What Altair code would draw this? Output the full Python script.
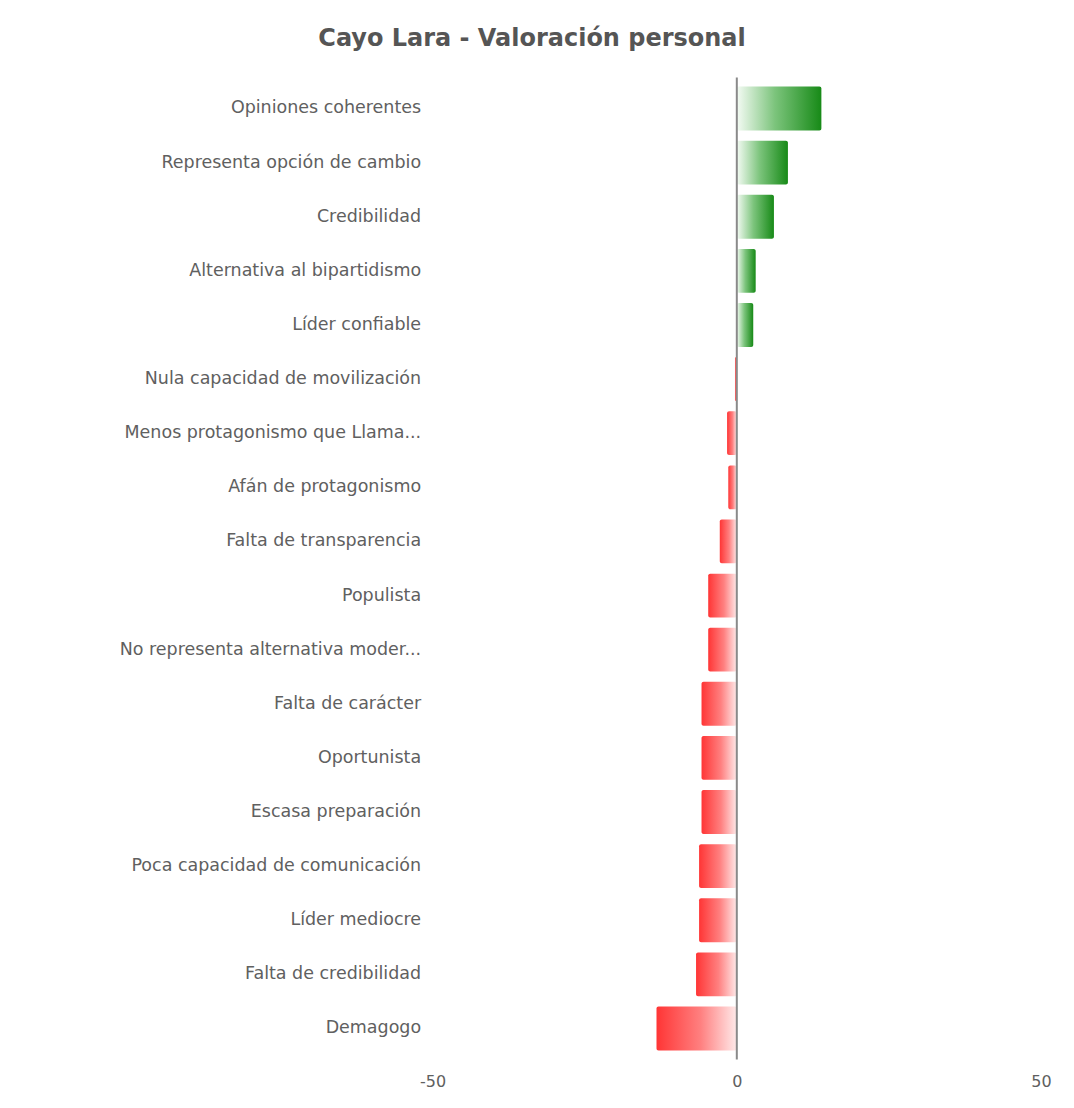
import altair as alt
import pandas as pd

categories = [
    "Opiniones coherentes",
    "Representa opción de cambio",
    "Credibilidad",
    "Alternativa al bipartidismo",
    "Líder confiable",
    "Nula capacidad de movilización",
    "Menos protagonismo que Llama...",
    "Afán de protagonismo",
    "Falta de transparencia",
    "Populista",
    "No representa alternativa moder...",
    "Falta de carácter",
    "Oportunista",
    "Escasa preparación",
    "Poca capacidad de comunicación",
    "Líder mediocre",
    "Falta de credibilidad",
    "Demagogo",
]
values = [13.9, 8.4, 6.1, 3.1, 2.7, -0.3, -1.6, -1.4, -2.8, -4.7, -4.7,
          -5.8, -5.8, -5.8, -6.2, -6.2, -6.7, -13.2]
x_ticks = [-50, 0, 50]

df = pd.DataFrame({"cat": categories, "val": values})
df["zero"] = 0

W, H = 609, 975
FONT = "DejaVu Sans"
GRAY = "#606060"

y_enc = alt.Y("cat:N", sort=None, title=None,
              scale=alt.Scale(paddingInner=0.19, paddingOuter=0.095),
              axis=alt.Axis(domain=False, ticks=False, labelPadding=12,
                            labelFont=FONT, labelFontSize=17.5, labelColor=GRAY,
                            labelLimit=420))
x_enc = alt.X("val:Q", title=None,
              scale=alt.Scale(domain=[-50, 50], nice=False),
              axis=alt.Axis(values=x_ticks, domain=False, ticks=False, grid=False,
                            labelFlush=False, labelPadding=18, labelFont=FONT,
                            labelFontSize=16, labelColor=GRAY,
                            labelExpr="'' + datum.value"))

green = alt.Gradient(gradient="linear", x1=0, x2=1, y1=0, y2=0,
                     stops=[alt.GradientStop(color="#f4fbf4", offset=0),
                            alt.GradientStop(color="#7cc47c", offset=0.45),
                            alt.GradientStop(color="#178a17", offset=1)])
red = alt.Gradient(gradient="linear", x1=0, x2=1, y1=0, y2=0,
                   stops=[alt.GradientStop(color="#ff3535", offset=0),
                          alt.GradientStop(color="#ff8080", offset=0.55),
                          alt.GradientStop(color="#ffeaea", offset=1)])

base = alt.Chart(df)

pos = base.transform_filter("datum.val > 0").mark_bar(
    color=green, cornerRadius=2
).encode(y=y_enc, x=x_enc, x2="zero:Q")

neg = base.transform_filter("datum.val < 0").mark_bar(
    color=red, cornerRadius=2
).encode(y=y_enc, x=x_enc, x2="zero:Q")

zero_rule = alt.Chart(pd.DataFrame({"z": [0]})).mark_rule(
    color="#8a8a8a", strokeWidth=2
).encode(x=alt.X("z:Q", scale=alt.Scale(domain=[-50, 50], nice=False)),
         y=alt.value(-4), y2=alt.value(H + 4))

chart = alt.layer(pos, neg, zero_rule).properties(
    width=W, height=H,
    background="white",
    title=alt.TitleParams("Cayo Lara - Valoración personal", font="DejaVu Sans",
                          fontSize=24, fontWeight="bold", color="#555555",
                          dx=-205, offset=25),
    autosize=alt.AutoSizeParams(type="none"),
    padding={"left": 425, "top": 73, "right": 25, "bottom": 40},
).configure_view(strokeWidth=0, stroke="transparent")

chart.save("out.html", embed_options={"renderer": "svg", "actions": False})
